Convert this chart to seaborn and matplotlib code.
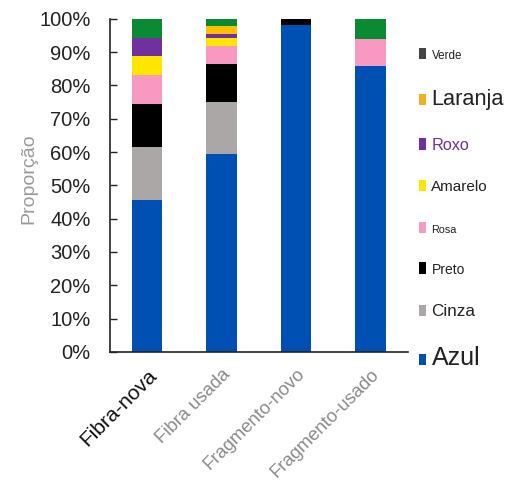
import numpy as np
import pandas as pd
import matplotlib
matplotlib.use("Agg")
import matplotlib.pyplot as plt
from matplotlib.patches import Patch
from matplotlib.ticker import PercentFormatter
import seaborn as sns

# data (percent of each sample)
cats = ["Fibra-nova", "Fibra usada", "Fragmento-novo", "Fragmento-usado"]
azul = [45.6, 59.5, 98.0, 85.9]
cinza = [16.0, 15.4, 0.0, 0.0]
preto = [12.9, 11.6, 2.0, 0.0]
rosa = [8.7, 5.4, 0.0, 8.0]
amarelo = [5.7, 2.2, 0.0, 0.0]
roxo = [5.4, 1.4, 0.0, 0.0]
laranja = [0.0, 2.4, 0.0, 0.0]
verde = [5.7, 2.1, 0.0, 6.1]

names = ["Azul", "Cinza", "Preto", "Rosa", "Amarelo", "Roxo", "Laranja", "Verde"]
colors = ["#0050b4", "#aba7a7", "#000000", "#f799c0", "#ffe600", "#7030a0", "#ffc000", "#0b8a34"]
legend_colors = ["#0050b4", "#aba7a7", "#000000", "#f799c0", "#ffe600", "#7030a0", "#f0b020", "#444444"]
legend_sizes = [18, 12.3, 10, 7.8, 11, 11.7, 15.7, 8.4]

df = pd.DataFrame([azul, cinza, preto, rosa, amarelo, roxo, laranja, verde], index=names, columns=cats)
cum = df.cumsum()

sns.set_style("white")
plt.rcParams['font.family'] = ['Liberation Sans', 'DejaVu Sans']

fig = plt.figure(figsize=(5.09, 4.82), dpi=100)
ax = fig.add_axes([0.216, 0.270, 0.585, 0.691])

# draw cumulative tops from the top layer down so each layer shows its slice
for name, col in zip(names[::-1], colors[::-1]):
    sns.barplot(x=cats, y=cum.loc[name].values, color=col, saturation=1,
                width=0.41, linewidth=0, ax=ax)

ax.set_ylim(0, 100)
ax.set_xlim(-0.5, 3.5)
ax.yaxis.set_major_locator(plt.MultipleLocator(10))
ax.yaxis.set_major_formatter(PercentFormatter(100, decimals=0))
ax.tick_params(axis="y", direction="in", length=5, width=1, color="#222222",
               labelsize=14.5, labelcolor="#222222", pad=14, left=True)
ax.tick_params(axis="x", length=0, labelsize=13.3, pad=10)

for s in ["top", "right"]:
    ax.spines[s].set_visible(False)
for s in ["left", "bottom"]:
    ax.spines[s].set_color("#222222")
    ax.spines[s].set_linewidth(1.2)

ax.set_xticks(range(len(cats)))
ax.set_xticklabels(cats, rotation=45, ha="right", rotation_mode="anchor")
for i, lab in enumerate(ax.get_xticklabels()):
    lab.set_color("#111111" if i == 0 else "#8a8a8a")
    if i == 0:
        lab.set_fontsize(15)

ax.set_xlabel("")
ax.set_ylabel("Proporção", fontsize=14, color="#9a9a9a")
ax.yaxis.set_label_coords(-0.245, 0.52)

handles = [Patch(facecolor=c, edgecolor="none") for c in legend_colors[::-1]]
leg = ax.legend(handles, names[::-1], loc="upper left", bbox_to_anchor=(0.81, 0.915),
                bbox_transform=fig.transFigure, frameon=False, fontsize=12,
                handlelength=0.45, handleheight=0.7, handletextpad=0.3,
                labelspacing=1.63, borderaxespad=0)
for t, sz, name in zip(leg.get_texts(), legend_sizes[::-1], names[::-1]):
    t.set_fontsize(sz)
    t.set_color("#7030a0" if name == "Roxo" else "#222222")

fig.savefig("out.png", dpi=100)
